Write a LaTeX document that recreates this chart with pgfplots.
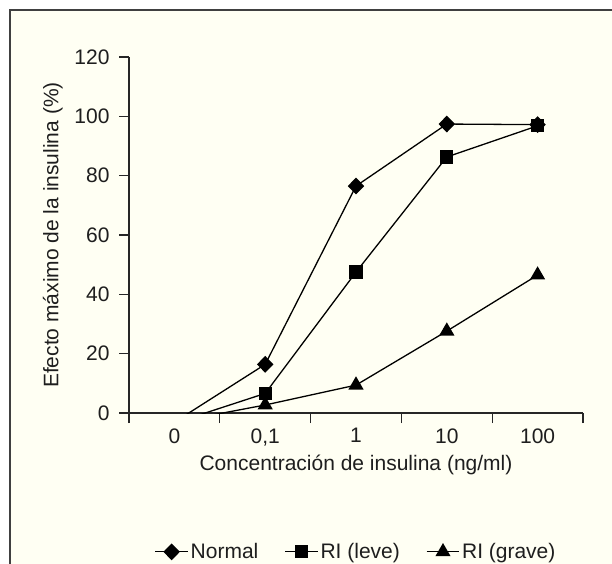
\documentclass[border=0pt]{standalone}
\usepackage{pgfplots}
\pgfplotsset{compat=1.18}
\usepackage{fontspec}
\setmainfont{Liberation Sans}
\definecolor{cream}{RGB}{255,255,243}
\definecolor{txt}{RGB}{30,30,30}

\begin{document}
\begin{tikzpicture}
\useasboundingbox (0,0) rectangle (612bp,564bp);
\fill[white] (0,0) rectangle (612bp,564bp);
\fill[cream] (9.5bp,0) rectangle (612bp,553.5bp);
\draw[line width=2bp, black!75] (9.5bp,0) -- (9.5bp,553.5bp) -- (612bp,553.5bp);

\begin{axis}[
    at={(129bp,151bp)}, anchor=south west,
    width=454bp, height=356bp, scale only axis,
    font={\fontsize{21bp}{25bp}\selectfont}, text=txt,
    /pgf/number format/assume math mode=true,
    axis x line*=bottom, axis y line*=left,
    axis line style={line width=1.2bp, black!85},
    xmin=-0.5, xmax=4.5, ymin=0, ymax=120,
    xtick={0,1,2,3,4}, xticklabels={0,{0,1},1,10,100},
    major x tick style={draw=none},
    minor xtick={-0.5,0.5,1.5,2.5,3.5,4.5},
    minor tick length=10bp,
    ytick={0,20,...,120}, major tick length=10bp,
    tick align=outside,
    tick style={line width=1.2bp, black!85},
    xticklabel style={yshift=-2bp},
    yticklabel style={xshift=-6bp},
    xlabel={Concentración de insulina (ng/ml)},
    ylabel={Efecto máximo de la insulina (\%)},
    xlabel style={yshift=-2bp},
    ylabel style={yshift=5bp},
    every axis plot/.append style={line width=1.3bp, black},
    legend columns=3,
    legend style={at={(0.5,-0.39)}, anchor=center, draw=none, fill=none,
        /tikz/every even column/.append style={column sep=24bp},
        font={\fontsize{21bp}{25bp}\selectfont}},
    legend cell align=left,
    legend image code/.code={
        \draw[mark repeat=2, mark phase=2, #1]
            plot coordinates {(0cm,0cm) (0.58cm,0cm) (1.16cm,0cm)};},
    ]
% lines from the 0 category (below ymin, clipped)
\addplot[no marks, forget plot] coordinates {(0,-3.1) (1,16.4)};
\addplot[no marks, forget plot] coordinates {(0,-3.4) (1,6.6)};
\addplot[no marks, forget plot] coordinates {(0,-3.1) (1,2.7)};
% Normal
\addplot[mark=diamond*, mark size=7.5bp,
    mark options={solid, fill=black, xscale=1.3}]
    coordinates {(1,16.4) (2,76.5) (3,97.4) (4,97.2)};
% RI (leve)
\addplot[mark=square*, mark size=6bp, mark options={solid, fill=black}]
    coordinates {(1,6.6) (2,47.5) (3,86.3) (4,96.8)};
% RI (grave)
\addplot[mark=triangle*, mark size=7.5bp, mark options={solid, fill=black}]
    coordinates {(1,2.7) (2,9.4) (3,27.6) (4,46.5)};
\legend{Normal, RI (leve), RI (grave)}
\end{axis}
\end{tikzpicture}
\end{document}
